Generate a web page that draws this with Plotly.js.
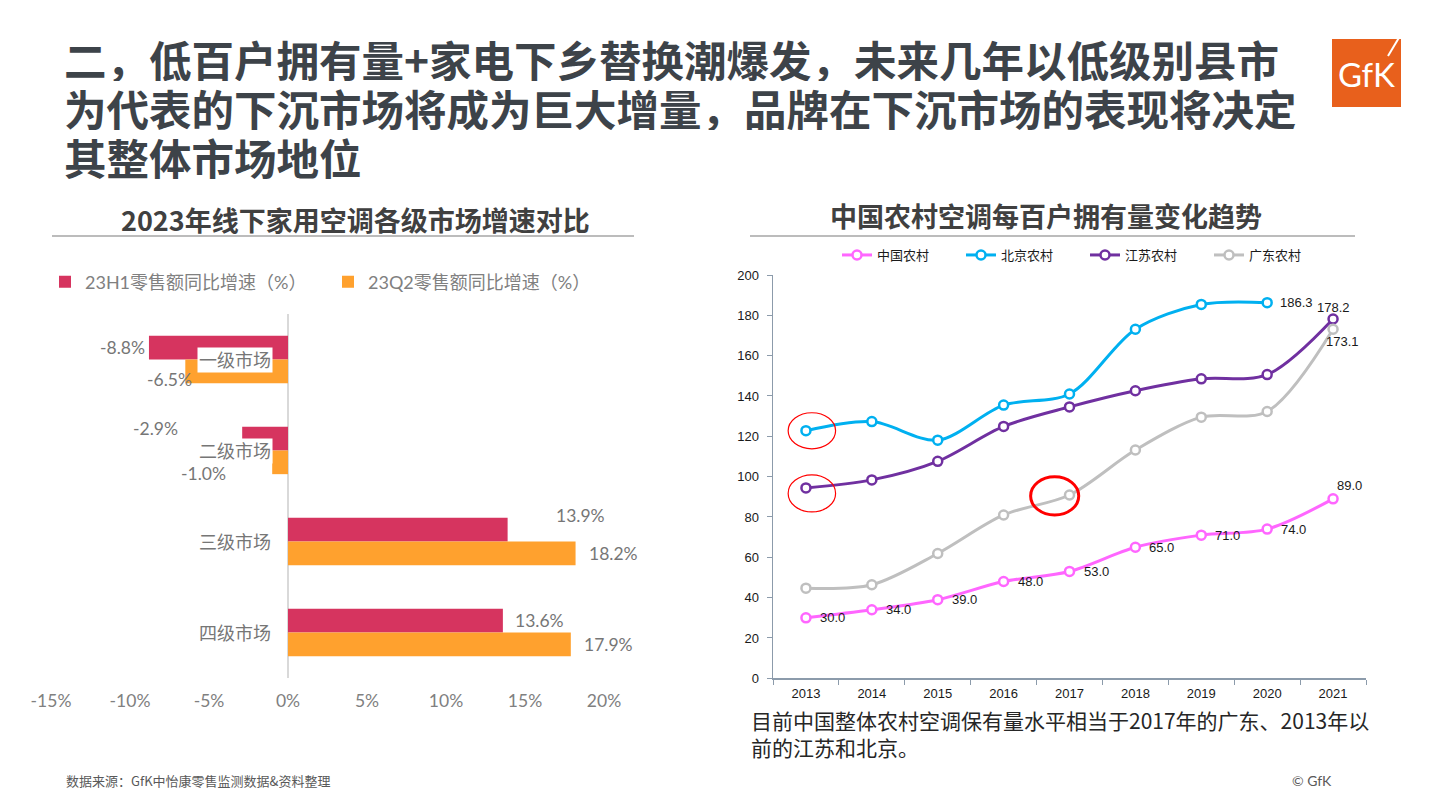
<!DOCTYPE html>
<html>
<head>
<meta charset="utf-8">
<script src="https://cdn.plot.ly/plotly-3.0.1.min.js"></script>
<style>
html,body{margin:0;padding:0;background:#fff;overflow:hidden;}
#chart{width:1441px;height:810px;}
</style>
</head>
<body>
<div id="chart"></div>
<script>
// ---------- Left chart data ----------
const marketCats = ['一级市场', '二级市场', '三级市场', '四级市场'];
const h1Growth = [-8.8, -2.9, 13.9, 13.6];
const q2Growth = [-6.5, -1.0, 18.2, 17.9];
const h1Name = '23H1零售额同比增速（%）';
const q2Name = '23Q2零售额同比增速（%）';
const pctTicks = [-15, -10, -5, 0, 5, 10, 15, 20];

// ---------- Right chart data ----------
const years = ['2013', '2014', '2015', '2016', '2017', '2018', '2019', '2020', '2021'];
const chinaRural = [30.0, 34.0, 39.0, 48.0, 53.0, 65.0, 71.0, 74.0, 89.0];
const beijingRural = [122.8, 127.3, 118.1, 135.5, 141.0, 173.1, 185.4, 186.3, null];
const jiangsuRural = [94.4, 98.4, 107.6, 124.9, 134.6, 142.6, 148.5, 150.6, 178.2];
const guangdongRural = [44.7, 46.4, 61.9, 81.0, 90.9, 113.2, 129.5, 132.3, 173.1];
const lineNames = ['中国农村', '北京农村', '江苏农村', '广东农村'];
const yTicks = [0, 20, 40, 60, 80, 100, 120, 140, 160, 180, 200];

// ---------- Styles ----------
const RED = '#d6345f', ORANGE = '#ffa12e';
const PINK = '#ff66ff', CYAN = '#00b0f0', PURPLE = '#7030a0', GREY = '#bfbfbf';
const CJK = 'Lato, "Noto Sans CJK SC", sans-serif';
const ARIAL = '"Liberation Sans", Arial, "Noto Sans CJK SC", sans-serif';
const W = 1441, H = 810;
const px = v => v / W, py = v => 1 - v / H;

const fmtPct = v => v.toFixed(1) + '%';

const traces = [];
traces.push({
  type: 'bar', orientation: 'h', name: h1Name, y: marketCats, x: h1Growth,
  marker: {color: RED}, xaxis: 'x', yaxis: 'y', legend: 'legend', hoverinfo: 'x'
});
traces.push({
  type: 'bar', orientation: 'h', name: q2Name, y: marketCats, x: q2Growth,
  marker: {color: ORANGE}, xaxis: 'x', yaxis: 'y', legend: 'legend', hoverinfo: 'x'
});

function lineTrace(name, vals, color) {
  return {
    type: 'scatter', mode: 'lines+markers', name: name, x: years, y: vals,
    line: {color: color, width: 3, shape: 'spline', smoothing: 0.9},
    marker: {symbol: 'circle', size: 9, color: '#ffffff', line: {color: color, width: 2.5}},
    cliponaxis: false, xaxis: 'x2', yaxis: 'y2', legend: 'legend2', connectgaps: false
  };
}
traces.push(lineTrace(lineNames[0], chinaRural, PINK));
traces.push(lineTrace(lineNames[1], beijingRural, CYAN));
traces.push(lineTrace(lineNames[2], jiangsuRural, PURPLE));
traces.push(lineTrace(lineNames[3], guangdongRural, GREY));

const annotations = [];

// Line-chart value labels, placed at each point through the axes (category index)
function pointLabel(series, i, anchor, dx, dy) {
  annotations.push({
    xref: 'x2', yref: 'y2', x: i, y: series[i], text: series[i].toFixed(1),
    showarrow: false, xanchor: anchor, yanchor: 'middle', xshift: dx, yshift: dy,
    font: {family: ARIAL, size: 13, color: '#1a1a1a'}
  });
}
chinaRural.forEach((v, i) => {
  if (i === chinaRural.length - 1) pointLabel(chinaRural, i, 'left', 2, 13);
  else pointLabel(chinaRural, i, 'left', 12, 0);
});
pointLabel(beijingRural, 7, 'left', 11, 0);
pointLabel(jiangsuRural, 8, 'center', 0, 11);
pointLabel(guangdongRural, 8, 'center', 9, -12);

// Bar data labels (pixel offsets: style only)
const h1Shift = [[-2, 0], [-62, 10], [46, 14], [10, 0]];
const q2Shift = [[9, -8], [-44, -11], [11, 0], [11, 0]];
h1Growth.forEach((v, i) => {
  annotations.push({
    xref: 'x', yref: 'y', x: v, y: marketCats[i], text: fmtPct(v), showarrow: false,
    xanchor: v < 0 ? 'right' : 'left', yanchor: 'middle',
    xshift: h1Shift[i][0], yshift: 12 + h1Shift[i][1],
    font: {family: CJK, size: 17.5, color: '#767676'}
  });
});
q2Growth.forEach((v, i) => {
  annotations.push({
    xref: 'x', yref: 'y', x: v, y: marketCats[i], text: fmtPct(v), showarrow: false,
    xanchor: v < 0 ? 'right' : 'left', yanchor: 'middle',
    xshift: q2Shift[i][0], yshift: -12 + q2Shift[i][1],
    font: {family: CJK, size: 17.5, color: '#767676'}
  });
});
// Category labels (drawn over the bars with white backing)
marketCats.forEach((c, i) => {
  annotations.push({
    xref: 'x', yref: 'y', x: 0, y: c, text: c, showarrow: false,
    xanchor: 'right', yanchor: 'middle', xshift: -15,
    bgcolor: '#ffffff', borderpad: 1,
    font: {family: CJK, size: 18, color: '#767676'}
  });
});

// Titles & texts
const titleLines = [
  '二，低百户拥有量+家电下乡替换潮爆发，未来几年以低级别县市',
  '为代表的下沉市场将成为巨大增量，品牌在下沉市场的表现将决定',
  '其整体市场地位'
];
const titleY = [58, 107, 156];
titleLines.forEach((t, i) => {
  annotations.push({
    xref: 'paper', yref: 'paper', x: px(62), y: py(titleY[i]), text: '<b>' + t + '</b>',
    showarrow: false, xanchor: 'left', yanchor: 'middle', height: 46,
    font: {family: '"Noto Sans CJK SC", sans-serif', size: 42.5, color: '#3d4349'}
  });
});
annotations.push({
  xref: 'paper', yref: 'paper', x: px(355), y: py(219), text: '<b>2023年线下家用空调各级市场增速对比</b>',
  showarrow: false, xanchor: 'center', yanchor: 'middle',
  font: {family: '"Noto Sans CJK SC", sans-serif', size: 27, color: '#404040'}
});
annotations.push({
  xref: 'paper', yref: 'paper', x: px(1046), y: py(215), text: '<b>中国农村空调每百户拥有量变化趋势</b>',
  showarrow: false, xanchor: 'center', yanchor: 'middle',
  font: {family: '"Noto Sans CJK SC", sans-serif', size: 27, color: '#404040'}
});
annotations.push({
  xref: 'paper', yref: 'paper', x: px(749), y: py(733),
  text: '目前中国整体农村空调保有量水平相当于2017年的广东、2013年以<br>前的江苏和北京。',
  showarrow: false, xanchor: 'left', yanchor: 'middle', align: 'left',
  font: {family: '"Noto Sans CJK SC", sans-serif', size: 21, color: '#262626'}
});
annotations.push({
  xref: 'paper', yref: 'paper', x: px(64), y: py(780), text: '数据来源：GfK中怡康零售监测数据&资料整理',
  showarrow: false, xanchor: 'left', yanchor: 'middle',
  font: {family: '"Noto Sans CJK SC", sans-serif', size: 13, color: '#595959'}
});
annotations.push({
  xref: 'paper', yref: 'paper', x: px(1334), y: py(780), text: '© GfK',
  showarrow: false, xanchor: 'right', yanchor: 'middle',
  font: {family: 'Lato, sans-serif', size: 14, color: '#595959'}
});
// GfK logo text
annotations.push({
  xref: 'paper', yref: 'paper', x: px(1366), y: py(74), text: 'GfK',
  showarrow: false, xanchor: 'center', yanchor: 'middle',
  font: {family: 'Lato, sans-serif', size: 33, color: '#ffffff'}
});

const shapes = [
  // title underlines
  {type: 'line', xref: 'paper', yref: 'paper', x0: px(52), x1: px(634), y0: py(236), y1: py(236),
   line: {color: '#a6a6a6', width: 1.5}},
  {type: 'line', xref: 'paper', yref: 'paper', x0: px(750), x1: px(1355), y0: py(236), y1: py(236),
   line: {color: '#a6a6a6', width: 1.5}},
  // GfK logo box
  {type: 'rect', xref: 'paper', yref: 'paper', x0: px(1332), x1: px(1401), y0: py(107), y1: py(39),
   fillcolor: '#e8601c', line: {width: 0}},
  {type: 'line', xref: 'paper', yref: 'paper', x0: px(1400), x1: px(1388), y0: py(36), y1: py(56),
   line: {color: '#ffffff', width: 2}},
  // red highlight circles (in data coordinates of right chart)
  {type: 'circle', xref: 'x2', yref: 'y2', x0: -0.27, x1: 0.45, y0: 113.8, y1: 131.7,
   line: {color: '#ff0000', width: 1.2}},
  {type: 'circle', xref: 'x2', yref: 'y2', x0: -0.27, x1: 0.45, y0: 82.5, y1: 100.9,
   line: {color: '#ff0000', width: 1.2}},
  {type: 'circle', xref: 'x2', yref: 'y2', x0: 3.41, x1: 4.14, y0: 81.0, y1: 99.9,
   line: {color: '#ff0000', width: 3}}
];

const layout = {
  width: W, height: H,
  margin: {l: 0, r: 0, t: 0, b: 0, autoexpand: false},
  paper_bgcolor: '#ffffff', plot_bgcolor: '#ffffff',
  showlegend: true,
  barmode: 'group', bargap: 0.48, bargroupgap: 0,
  xaxis: {
    domain: [px(51), px(604)], anchor: 'y', range: [-15, 20],
    tickvals: pctTicks, ticktext: pctTicks.map(v => v + '%'),
    showgrid: false, zeroline: true, zerolinecolor: '#d9d9d9', zerolinewidth: 2,
    showline: false, ticks: '', automargin: false, ticklabelstandoff: 10,
    tickfont: {family: CJK, size: 17.5, color: '#808080'}, fixedrange: true
  },
  yaxis: {
    domain: [py(678), py(314)], anchor: 'x', autorange: 'reversed', type: 'category',
    showticklabels: false, showgrid: false, zeroline: false, showline: false, ticks: '',
    automargin: false, fixedrange: true
  },
  xaxis2: {
    domain: [px(773), px(1366)], anchor: 'y2', type: 'category', range: [-0.5, 8.5],
    showline: true, linecolor: '#8c9bab', linewidth: 1.5, ticks: 'outside', tickson: 'boundaries',
    ticklen: 5, tickcolor: '#8c9bab', showgrid: false, automargin: false, ticklabelstandoff: 3,
    tickfont: {family: ARIAL, size: 13, color: '#1a1a1a'}, fixedrange: true
  },
  yaxis2: {
    domain: [py(678.3), py(275)], anchor: 'x2', range: [0, 200], tickvals: yTicks,
    showline: true, linecolor: '#8c9bab', linewidth: 1.5, ticks: 'outside', ticklen: 5,
    tickcolor: '#8c9bab', showgrid: false, zeroline: false, automargin: false, ticklabelstandoff: 5,
    tickfont: {family: ARIAL, size: 13, color: '#1a1a1a'}, fixedrange: true
  },
  legend: {
    orientation: 'h', x: px(45), y: py(282), xanchor: 'left', yanchor: 'middle',
    entrywidth: 238, entrywidthmode: 'pixels', itemwidth: 30,
    font: {family: CJK, size: 18, color: '#808080'}, bgcolor: 'rgba(0,0,0,0)'
  },
  legend2: {
    orientation: 'h', x: px(837), y: py(255), xanchor: 'left', yanchor: 'middle',
    entrywidth: 79, entrywidthmode: 'pixels', itemwidth: 30,
    font: {family: '"Noto Sans CJK SC", sans-serif', size: 13, color: '#1a1a1a'}, bgcolor: 'rgba(0,0,0,0)'
  },
  annotations: annotations,
  shapes: shapes
};

Plotly.newPlot('chart', traces, layout, {displayModeBar: false, staticPlot: true});
</script>
</body>
</html>
